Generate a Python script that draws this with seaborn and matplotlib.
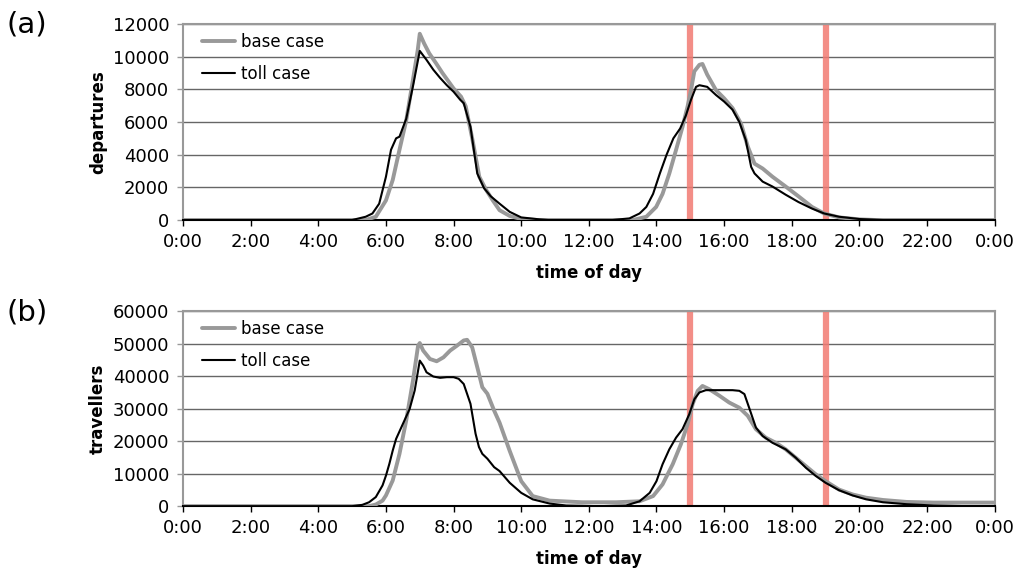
import numpy as np
import pandas as pd
import matplotlib
matplotlib.use("Agg")
import matplotlib.pyplot as plt
import seaborn as sns

# -----------------------------------
# DATA (hours of day)
# -----------------------------------

dep_base_t = [0, 5.4, 5.7, 6.0, 6.2, 6.4, 6.6, 6.8, 6.94, 7.0, 7.13, 7.28, 7.48, 7.67, 8.0,
              8.22, 8.36, 8.56, 8.76, 8.96, 9.16, 9.36, 9.66, 10.0, 10.5, 13.3, 13.7, 13.99,
              14.18, 14.38, 14.58, 14.77, 14.92, 15.02, 15.12, 15.27, 15.36, 15.5, 15.76, 16.0,
              16.25, 16.5, 16.7, 16.9, 17.14, 17.43, 17.82, 18.2, 18.6, 18.96, 19.4, 20.0, 20.5, 24]
dep_base = [0, 0, 200, 1200, 2450, 4300, 6100, 8600, 10400, 11400, 10800, 10200, 9600, 9000, 8050,
            7550, 6950, 4900, 2650, 1850, 1200, 600, 250, 60, 0, 0, 200, 800,
            1600, 2850, 4300, 5700, 6950, 7950, 9100, 9500, 9550, 8900, 7950, 7450,
            6850, 5900, 4500, 3450, 3150, 2650, 2050, 1450, 800, 400, 160, 40, 0, 0]

dep_toll_t = [0, 5.0, 5.4, 5.6, 5.8, 6.0, 6.15, 6.3, 6.4, 6.6, 6.8, 7.0, 7.2, 7.4, 7.6, 7.8, 8.0,
              8.2, 8.3, 8.5, 8.7, 8.9, 9.1, 9.36, 9.66, 10.0, 10.54, 10.8, 12.7, 13.2, 13.5, 13.7,
              13.9, 14.1, 14.3, 14.5, 14.7, 14.87, 15.02, 15.17, 15.27, 15.5, 15.76, 16.0, 16.25,
              16.45, 16.64, 16.8, 16.9, 17.14, 17.43, 17.82, 18.2, 18.6, 18.96, 19.4, 20.0, 20.7, 24]
dep_toll = [0, 0, 200, 400, 1000, 2650, 4300, 5000, 5100, 6200, 8200, 10350, 9800, 9200, 8700, 8250, 7850,
            7350, 7150, 5700, 2850, 1950, 1450, 1000, 500, 160, 40, 0, 0, 100, 400, 800,
            1600, 2850, 4000, 5000, 5600, 6400, 7350, 8150, 8250, 8150, 7650, 7250, 6750,
            6000, 4900, 3250, 2850, 2350, 2050, 1550, 1100, 700, 400, 200, 60, 0, 0]

trav_base_t = [0, 5.5, 5.7, 5.9, 6.0, 6.2, 6.4, 6.6, 6.8, 6.95, 7.0, 7.1, 7.3, 7.5, 7.7, 7.9, 8.1,
               8.3, 8.4, 8.55, 8.7, 8.85, 9.0, 9.2, 9.36, 9.66, 10.0, 10.34, 10.84, 11.8, 12.8,
               13.5, 13.9, 14.18, 14.48, 14.72, 14.92, 15.07, 15.22, 15.36, 15.56, 15.86, 16.15,
               16.45, 16.7, 16.94, 17.23, 17.53, 17.82, 18.12, 18.42, 18.71, 19.0, 19.4, 19.8,
               20.2, 20.7, 21.4, 22.2, 24]
trav_base = [0, 0, 500, 1700, 3300, 7900, 16100, 26400, 38700, 49400, 50200, 47900, 45300, 44600, 45800, 47900, 49400,
             51000, 51200, 48900, 42800, 36600, 34600, 29400, 25700, 17000, 7700, 3100, 1700, 1200, 1200,
             1500, 3100, 6700, 12900, 19000, 25200, 31400, 35500, 37000, 36000, 34000, 31900,
             30300, 27800, 23700, 21100, 19500, 17500, 14900, 12300, 9800, 7700, 5100, 3600,
             2600, 1900, 1300, 1100, 1100]

trav_toll_t = [0, 5.0, 5.3, 5.5, 5.7, 5.9, 6.0, 6.1, 6.2, 6.3, 6.5, 6.7, 6.85, 7.0, 7.1, 7.2, 7.4,
               7.6, 7.8, 8.0, 8.15, 8.3, 8.5, 8.65, 8.75, 8.85, 9.0, 9.2, 9.36, 9.66, 10.0, 10.34,
               10.84, 11.33, 12.3, 13.1, 13.5, 13.8, 14.0, 14.18, 14.38, 14.58, 14.77, 14.97, 15.12,
               15.27, 15.46, 15.86, 16.25, 16.45, 16.6, 16.74, 16.94, 17.14, 17.43, 17.82, 18.12,
               18.42, 18.71, 19.0, 19.4, 19.8, 20.2, 20.7, 21.4, 22.2, 23.2, 24]
trav_toll = [0, 0, 400, 1200, 2800, 6400, 9400, 13000, 17100, 20700, 25300, 29900, 35600, 44800, 43300, 41200, 39900,
             39500, 39700, 39700, 39200, 37600, 31500, 22300, 18200, 16100, 14600, 12000, 10800, 7200, 4100, 2100,
             800, 200, 0, 200, 1500, 4100, 7700, 12900, 17500, 21100, 23700, 28300, 32900,
             35000, 35700, 35700, 35700, 35500, 34500, 30300, 24200, 21600, 19500, 17500, 14900,
             11800, 9300, 7200, 4900, 3300, 2100, 1200, 600, 200, 0, 0]

toll_window = [15, 19]
hour_ticks = list(range(0, 25, 2))
hour_labels = [f"{h % 24}:00" for h in hour_ticks]

# -----------------------------------
# PLOT
# -----------------------------------

sns.set_theme(style="white")
plt.rcParams['font.family'] = ['DejaVu Sans']
plt.rcParams['text.color'] = 'black'
plt.rcParams['axes.labelcolor'] = 'black'
plt.rcParams['xtick.color'] = 'black'
plt.rcParams['ytick.color'] = 'black'

fig = plt.figure(figsize=(10.17, 5.7), dpi=100)
ax_a = fig.add_axes([0.180, 0.614, 0.798, 0.344])
ax_b = fig.add_axes([0.180, 0.112, 0.798, 0.342])

panels = [
    (ax_a, dep_base_t, dep_base, dep_toll_t, dep_toll, "departures", 12000, 2000, "(a)", 0.982),
    (ax_b, trav_base_t, trav_base, trav_toll_t, trav_toll, "travellers", 60000, 10000, "(b)", 0.477),
]

for ax, bt, bv, tt, tv, ylab, ymax, ystep, tag, tag_y in panels:
    for x in toll_window:
        ax.axvline(x, color='#f27a72', lw=4.5, alpha=0.85, zorder=1)
    sns.lineplot(x=bt, y=bv, ax=ax, color='#999999', lw=2.8, label='base case', zorder=3)
    sns.lineplot(x=tt, y=tv, ax=ax, color='black', lw=1.5, label='toll case', zorder=4)

    ax.set_xlim(0, 24)
    ax.set_ylim(0, ymax)
    ax.set_xticks(hour_ticks)
    ax.set_xticklabels(hour_labels)
    ax.set_yticks(np.arange(0, ymax + 1, ystep))
    ax.yaxis.grid(True, color='#666666', lw=1.0)
    ax.set_axisbelow(True)

    for side in ['top', 'right', 'left']:
        ax.spines[side].set_color('#999999')
        ax.spines[side].set_linewidth(1.5)
    ax.spines['bottom'].set_color('black')
    ax.spines['bottom'].set_linewidth(1.5)

    ax.tick_params(axis='x', direction='out', length=4, width=1, color='black',
                   pad=5, labelsize=13, bottom=True)
    ax.tick_params(axis='y', direction='out', length=4, width=1, color='#999999',
                   pad=6, labelsize=13, left=True)

    ax.set_xlabel("time of day", fontsize=12, fontweight='bold')
    ax.xaxis.set_label_coords(0.5, -0.225)
    ax.set_ylabel(ylab, fontsize=12, fontweight='bold')
    ax.yaxis.set_label_coords(-0.094, 0.5)

    ax.legend(loc='upper left', bbox_to_anchor=(0.0234, 0.955), frameon=False,
              fontsize=12, handlelength=2.0, handletextpad=0.35,
              labelspacing=0.83, borderpad=0, borderaxespad=0)

    fig.text(0.006, tag_y, tag, fontsize=21, va='top', ha='left')

plt.savefig("out.png", dpi=100)
